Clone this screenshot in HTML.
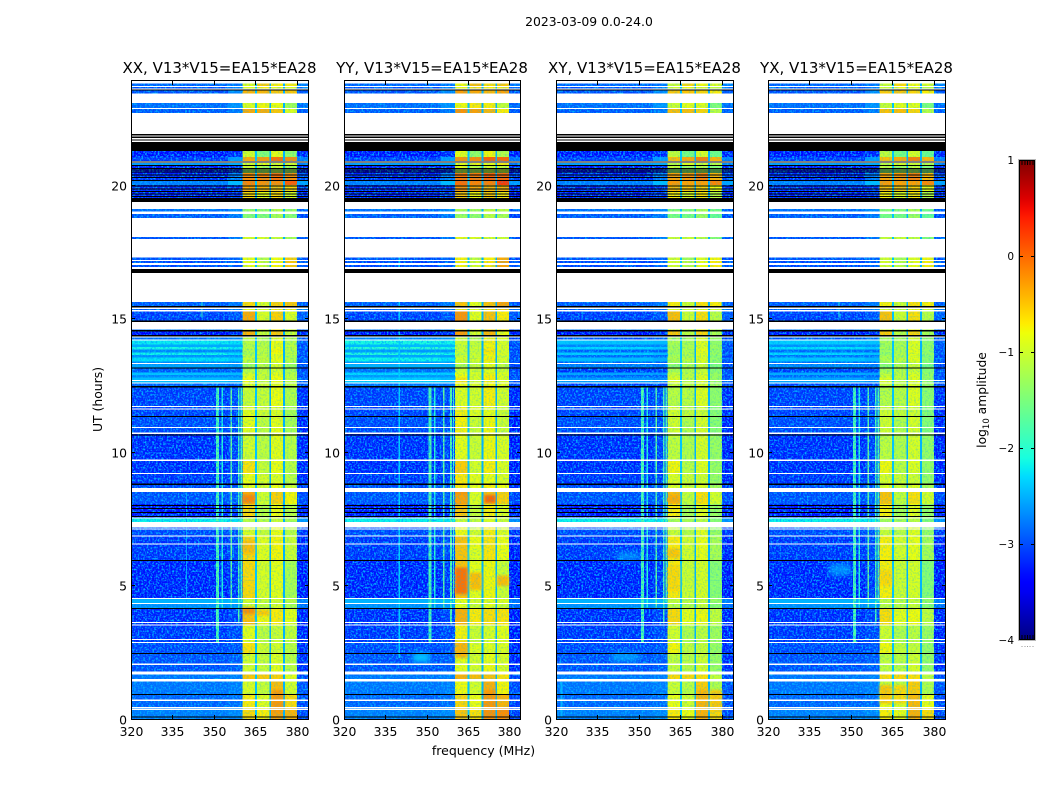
<!DOCTYPE html>
<html lang="en">
<head>
<meta charset="utf-8">
<title>2023-03-09 0.0-24.0</title>
<style>
html,body{margin:0;padding:0;background:#fff;}
svg{display:block;}
text{font-family:"DejaVu Sans","Liberation Sans",sans-serif;fill:#000;}
</style>
</head>
<body>
<svg id="chart" xmlns="http://www.w3.org/2000/svg" width="1050" height="800" viewBox="0 0 1050 800">
  <defs>
    <filter id="grain" x="0" y="0" width="100%" height="100%" color-interpolation-filters="sRGB">
      <feTurbulence type="fractalNoise" baseFrequency="0.55" numOctaves="2" seed="3"/>
      <feColorMatrix type="matrix" values="0 0 0 0 0  0 0 0 0 0.7  0 0 0 0 1  3.2 0 0 0 -1.4"/>
    </filter>
    <linearGradient id="jet-gradient" x1="0" y1="1" x2="0" y2="0"></linearGradient>
  </defs>
  <rect x="0" y="0" width="1050" height="800" fill="#fff"/>
  <text x="589" y="26" font-size="12.4" text-anchor="middle">2023-03-09 0.0-24.0</text>
  <text x="483.5" y="755" font-size="12.5" text-anchor="middle">frequency (MHz)</text>
  <text transform="translate(102,399.5) rotate(-90)" font-size="12.4" text-anchor="middle">UT (hours)</text>
  <text transform="translate(986,400) rotate(-90)" font-size="12.3" text-anchor="middle">log<tspan font-size="8.5" dy="3">10</tspan><tspan dy="-3"> amplitude</tspan></text>
  <g id="panels"></g>
  <g id="colorbar"></g>
</svg>
<script>
// ---- chart data (log10 amplitude, UT hours, MHz) ----
const panelTitles = ['XX, V13*V15=EA15*EA28', 'YY, V13*V15=EA15*EA28', 'XY, V13*V15=EA15*EA28', 'YX, V13*V15=EA15*EA28'];
const freqTicks = [320, 335, 350, 365, 380];
const hourTicks = [0, 5, 10, 15, 20];
const colorbarTicks = [-4, -3, -2, -1, 0, 1];
const freqDomain = [320, 384];
const ampDomain = [-4, 1];
// frequency zones: left, right, band1, gap, band2, gap, band3, gap, band4, edge
const zoneEdges = [320, 355, 360.4, 364.9, 365.6, 370, 370.7, 375, 375.6, 380, 384];
const gapLevels = [-2.4, -2.5, -2.5];
// hTop, hBot, left, right, band1, band2, band3, band4, edge
const sections = [
  [24.00,23.72,-2.8,-2.7,-0.9,-0.6,-0.7,-0.8,-2.7],
  [23.72,23.59,-2.9,-2.7,-0.9,-0.8,-0.8,-1.0,-2.8],
  [23.59,23.45,-2.9,-2.6,-0.4,-0.5,-0.5,-0.6,-2.9],
  [23.09,22.90,-2.75,-2.55,-0.9,-0.85,-0.8,-1.35,-2.8],
  [22.87,22.72,-2.85,-2.7,-0.35,-0.45,-0.5,-1.0,-2.9],
  [21.30,21.06,-3.2,-3.1,-0.95,-1.5,-0.85,-1.45,-3.2],
  [21.06,20.91,-3.0,-2.5,-0.35,-0.35,-0.05,-0.3,-2.7],
  [20.84,20.77,-2.5,-2.4,-0.95,-0.9,-0.9,-1.0,-2.7],
  [20.77,20.64,-3.2,-3.1,-0.95,-1.25,-1.0,-1.3,-3.2],
  [20.64,20.47,-3.25,-3.1,-1.25,-1.3,-1.15,-1.35,-3.2],
  [20.47,20.21,-3.1,-2.7,-0.2,-0.25,-0.05,-0.3,-3.0],
  [20.21,20.02,-2.65,-2.3,-0.15,-0.3,-0.2,-0.05,-2.5],
  [20.02,19.80,-3.1,-3.0,-0.35,-0.5,-0.5,-0.7,-3.1],
  [19.80,19.53,-3.15,-3.05,-0.6,-0.9,-0.6,-1.0,-3.2],
  [19.12,19.03,-2.75,-2.6,-1.3,-1.4,-1.1,-1.4,-2.9],
  [18.94,18.78,-2.85,-2.7,-1.4,-1.5,-1.2,-1.5,-3.0],
  [18.08,17.99,-2.9,-2.7,-0.9,-1.0,-1.0,-1.3,-2.9],
  [17.31,17.17,-2.9,-2.8,-0.85,-1.2,-0.8,-0.65,-3.0],
  [17.17,16.87,-2.95,-2.85,-0.85,-1.1,-0.75,-0.6,-2.9],
  [15.64,15.44,-2.85,-2.7,-0.6,-1.0,-0.55,-0.6,-2.9],
  [15.44,15.29,-2.85,-2.7,-0.8,-1.0,-0.7,-0.8,-2.7],
  [15.29,14.94,-3.0,-2.9,-0.35,-1.0,-0.55,-1.0,-2.9],
  [14.61,14.56,-2.7,-2.6,-0.8,-1.0,-0.7,-1.0,-2.9],
  [14.56,14.31,-3.25,-3.1,-0.4,-1.1,-0.5,-1.1,-3.2],
  [14.31,14.20,-2.6,-2.5,-1.1,-1.25,-0.85,-1.2,-3.0],
  [14.20,14.05,-1.95,-2.0,-1.1,-1.2,-0.8,-1.25,-2.9],
  [14.05,13.95,-2.3,-2.3,-1.15,-1.2,-0.85,-1.2,-3.0],
  [13.95,13.85,-1.85,-1.95,-1.1,-1.15,-0.8,-1.2,-2.9],
  [13.85,13.75,-2.5,-2.5,-1.15,-1.2,-0.75,-1.25,-3.0],
  [13.75,13.65,-1.9,-2.0,-1.2,-1.15,-0.8,-1.2,-2.9],
  [13.65,13.55,-2.45,-2.45,-1.1,-1.2,-0.85,-1.3,-3.0],
  [13.55,13.40,-2.0,-2.1,-1.05,-1.1,-0.8,-1.25,-2.9],
  [13.40,13.30,-2.5,-2.5,-1.15,-1.2,-0.9,-1.3,-3.0],
  [13.30,13.16,-2.35,-2.4,-1.3,-1.2,-0.95,-1.4,-3.0],
  [13.16,13.00,-2.75,-2.7,-1.1,-1.15,-0.95,-1.3,-3.0],
  [13.00,12.90,-2.15,-2.2,-0.95,-1.1,-0.85,-1.2,-2.9],
  [12.90,12.80,-2.5,-2.5,-0.9,-1.1,-0.8,-1.2,-3.0],
  [12.80,12.62,-2.2,-2.3,-0.8,-1.1,-0.8,-1.2,-2.9],
  [12.62,12.44,-2.7,-2.7,-0.9,-1.05,-0.85,-1.15,-3.0],
  [12.44,11.75,-3.0,-2.95,-1.0,-1.1,-0.8,-1.25,-3.15],
  [11.75,11.33,-3.0,-2.95,-0.85,-1.05,-0.9,-1.3,-3.15],
  [11.33,10.72,-2.95,-2.95,-0.85,-1.15,-0.85,-1.3,-3.2],
  [10.72,9.71,-3.1,-3.0,-0.95,-1.15,-0.85,-1.2,-3.2],
  [9.71,9.22,-3.1,-3.0,-0.65,-1.1,-0.8,-1.2,-3.2],
  [9.22,8.81,-3.05,-3.0,-0.8,-1.0,-0.9,-1.2,-3.2],
  [8.81,8.53,-2.95,-2.9,-0.8,-1.0,-0.8,-1.1,-3.1],
  [8.53,8.07,-2.9,-2.85,-0.35,-1.05,-0.55,-0.85,-3.0],
  [8.07,7.57,-3.2,-3.05,-0.6,-1.2,-0.8,-1.2,-3.2],
  [7.54,7.39,-2.0,-2.05,-1.1,-1.2,-1.0,-1.3,-2.6],
  [7.20,6.88,-2.95,-2.9,-0.9,-1.1,-0.8,-1.2,-3.1],
  [6.88,5.96,-3.05,-2.95,-0.6,-0.95,-0.75,-1.1,-3.2],
  [5.96,4.54,-3.15,-3.05,-0.6,-1.0,-0.85,-1.3,-3.25],
  [4.54,4.35,-2.35,-2.3,-0.95,-1.1,-0.95,-1.2,-2.7],
  [4.35,4.16,-2.55,-2.5,-1.0,-1.15,-0.95,-1.3,-2.8],
  [4.16,3.54,-3.1,-3.0,-0.5,-0.85,-0.7,-0.95,-3.2],
  [3.54,2.89,-3.05,-2.95,-0.85,-1.15,-1.0,-1.15,-3.2],
  [2.89,2.48,-2.95,-2.9,-0.65,-1.05,-0.95,-1.2,-3.15],
  [2.48,2.07,-2.9,-2.85,-0.95,-1.1,-0.9,-1.2,-3.15],
  [2.07,1.68,-2.9,-2.85,-0.95,-1.1,-0.85,-1.2,-3.15],
  [1.68,1.42,-2.7,-2.65,-0.5,-0.6,-0.55,-0.95,-3.0],
  [1.42,0.94,-2.7,-2.65,-0.9,-1.1,-0.45,-1.05,-2.95],
  [0.94,0.44,-2.8,-2.75,-0.7,-0.95,-0.35,-0.7,-3.0],
  [0.44,0.00,-2.65,-2.6,-0.6,-0.8,-0.3,-0.5,-3.0]
];
// offsets for each baseline: left, right, band1-4, edge
const panelOffsets = [
  [-0.15, -0.15, 0, 0.08, 0, 0.1, -0.1],
  [-0.15, -0.15, 0.12, 0.16, 0.08, 0.3, -0.15],
  [-0.15, -0.15, -0.1, 0, -0.08, -0.1, -0.1],
  [-0.15, -0.15, -0.12, 0, -0.08, -0.12, -0.1]
];
const quietStripeOffsets = [-0.1, 0, -0.3, -0.25];
// panel (-1 for all), frequency, width MHz, level, hTop, hBot
const rfiLines = [
  [-1, 351.3, 1.0, -1.75, 12.44, 2.9],
  [-1, 353.0, 0.4, -2.0, 12.44, 4.2],
  [-1, 356.3, 0.5, -1.6, 12.44, 4.2],
  [-1, 358.9, 0.6, -1.7, 12.44, 3.6],
  [-1, 359.8, 0.5, -1.8, 12.44, 4.4],
  [1, 340.1, 0.4, -2.35, 17.3, 2.3],
  [0, 345.7, 0.4, -1.9, 15.64, 15.05],
  [3, 345.7, 0.4, -2.0, 15.64, 15.05],
  [0, 340.1, 0.3, -2.6, 8.5, 4.2],
  [2, 322.0, 0.6, -2.5, 1.4, 0.1]
];
// panel, hTop, hBot, f0, f1, level
const patches = [
  [0,6.7,6.2,360.4,364.9,-0.45],[0,4.2,3.95,360.4,364.9,-0.2],[0,4.1,3.9,365.6,370,-0.5],
  [0,8.4,8.1,360.4,364.9,-0.15],[0,3.7,3.55,360.4,364.9,-0.4],[0,1.1,0.3,371,375,-0.25],
  [1,5.7,4.7,360.4,364.9,-0.05],[1,5.5,4.85,365.6,370,-0.45],[1,5.4,5.0,375.6,380,-0.45],
  [1,2.9,2.3,360.4,364.9,-0.4],[1,8.4,8.1,371,375,0.02],[1,8.45,8.07,360.4,364.9,-0.3],
  [1,1.1,0.4,371,375,-0.25],[1,2.5,2.15,345,351,-2.35],[1,6.4,5.9,365.6,370,-0.9],
  [2,5.8,4.8,360.4,364.9,-0.6],[2,6.4,6.05,360.4,364.9,-0.5],[2,8.4,8.1,360.4,364.9,-0.35],
  [2,6.25,5.95,342,350,-2.7],[2,2.5,2.2,340,350,-2.6],[2,1.1,0.3,371,375,-0.4],[2,1.1,0.3,375.6,380,-0.5],
  [3,5.6,5.0,360.4,364.9,-0.6],[3,5.85,5.4,342,350,-2.7],[3,1.3,0.6,360.4,364.9,-0.5],[3,1.3,0.6,365.6,370,-0.6]
];
const whiteRows = [
  [23.92,23.82],[23.72,23.69],[23.64,23.59],[23.45,23.09],[22.90,22.87],[22.72,21.93],[21.88,21.83],
  [21.78,21.73],[21.68,21.63],[20.91,20.84],[19.38,19.12],[19.03,18.94],[18.78,18.08],[17.99,17.31],
  [17.21,17.17],[17.09,17.03],[16.94,16.87],[16.73,15.64],[15.44,15.37],[15.34,15.29],[14.89,14.61],
  [14.39,14.31],[14.23,14.19],[13.36,13.32],[12.72,12.68],[12.62,12.58],[11.75,11.70],[11.65,11.61],
  [10.96,10.92],[10.74,10.70],[9.73,9.69],[9.24,9.20],[8.67,8.53],[7.57,7.54],[7.39,7.20],[7.15,7.11],
  [6.90,6.86],[6.59,6.55],[4.56,4.52],[4.37,4.33],[3.66,3.62],[3.56,3.52],[3.02,2.98],[2.91,2.87],
  [2.09,2.05],[1.79,1.68],[1.52,1.42],[0.74,0.70],[0.46,0.42],[0.40,0.36]
];
const blackRows = [
  [23.59,23.55],[21.93,21.88],[21.83,21.78],[21.73,21.68],[21.63,21.30],[20.90,20.86],[20.77,20.73],
  [20.66,20.62],[20.60,20.56],[20.53,20.49],[20.41,20.37],[20.32,20.28],[20.21,20.17],[20.00,19.96],
  [19.89,19.85],[19.80,19.76],[19.70,19.66],[19.61,19.57],[19.53,19.38],[16.87,16.73],[15.49,15.44],
  [14.94,14.89],[14.58,14.54],[14.40,14.35],[13.18,13.14],[12.49,12.44],[11.37,11.33],[10.68,10.65],
  [8.83,8.79],[8.04,8.01],[7.93,7.90],[7.78,7.75],[7.63,7.60],[5.98,5.94],[4.18,4.14],[2.50,2.46],
  [0.96,0.92],[0.12,0.08]
];

// ---- scales ----
const NS = 'http://www.w3.org/2000/svg';
const panelBoxes = [[131, 177], [344, 176], [556, 177], [768, 177]];
const plotBottom = 719.5, pxPerHour = 26.7, plotTop = 81;
function xScale(box, f) { return box[0] + (f - freqDomain[0]) * box[1] / (freqDomain[1] - freqDomain[0]); }
function yScale(h) { return Math.max(plotTop, plotBottom - h * pxPerHour); }
function clamp01(v) { return Math.min(1, Math.max(0, v)); }
function interp(t, pts) {
  for (let i = 1; i < pts.length; i++) {
    if (t <= pts[i][0]) {
      const a = pts[i - 1], b = pts[i];
      return a[1] + (b[1] - a[1]) * (t - a[0]) / (b[0] - a[0]);
    }
  }
  return pts[pts.length - 1][1];
}
function jet(level) {
  const t = clamp01((level - ampDomain[0]) / (ampDomain[1] - ampDomain[0]));
  const r = interp(t, [[0,0],[0.35,0],[0.66,1],[0.89,1],[1,0.5]]);
  const g = interp(t, [[0,0],[0.125,0],[0.375,1],[0.64,1],[0.91,0],[1,0]]);
  const b = interp(t, [[0,0.5],[0.11,1],[0.34,1],[0.65,0],[1,0]]);
  return 'rgb(' + Math.round(r * 255) + ',' + Math.round(g * 255) + ',' + Math.round(b * 255) + ')';
}
function makeRect(parent, x, y, w, h, fill) {
  const el = document.createElementNS(NS, 'rect');
  el.setAttribute('x', x.toFixed(2));
  el.setAttribute('y', y.toFixed(2));
  el.setAttribute('width', w.toFixed(2));
  el.setAttribute('height', h.toFixed(2));
  el.setAttribute('fill', fill);
  el.setAttribute('shape-rendering', 'crispEdges');
  parent.appendChild(el);
  return el;
}
function makeText(parent, x, y, size, anchor, str) {
  const el = document.createElementNS(NS, 'text');
  el.setAttribute('x', x);
  el.setAttribute('y', y);
  el.setAttribute('font-size', size);
  el.setAttribute('text-anchor', anchor);
  el.textContent = str;
  parent.appendChild(el);
  return el;
}
function minusLabel(v) { return v < 0 ? '\u2212' + Math.abs(v) : String(v); }

// ---- panels ----
const panelsGroup = document.getElementById('panels');
panelTitles.forEach(function (title, p) {
  const box = panelBoxes[p];
  const g = document.createElementNS(NS, 'g');
  
  
  panelsGroup.appendChild(g);

  // heatmap cells
  sections.forEach(function (row) {
    const isStripe = row[0] <= 14.31 && row[1] >= 12.44;
    const zoneLevels = [
      row[2] + panelOffsets[p][0] + (isStripe ? quietStripeOffsets[p] : 0),
      row[3] + panelOffsets[p][1] + (isStripe ? quietStripeOffsets[p] : 0),
      row[4] + panelOffsets[p][2], gapLevels[0],
      row[5] + panelOffsets[p][3], gapLevels[1],
      row[6] + panelOffsets[p][4], gapLevels[2],
      row[7] + panelOffsets[p][5],
      row[8] + panelOffsets[p][6]
    ];
    zoneLevels.forEach(function (level, z) {
      const x0 = xScale(box, zoneEdges[z]), x1 = xScale(box, zoneEdges[z + 1]);
      const y0 = yScale(row[0]), y1 = yScale(row[1]);
      const cell = makeRect(g, x0, y0, x1 - x0, y1 - y0, jet(level));
      
      
    });
  });

  // RFI vertical lines
  rfiLines.forEach(function (line) {
    if (line[0] !== -1 && line[0] !== p) return;
    const x0 = xScale(box, line[1] - line[2] / 2), x1 = xScale(box, line[1] + line[2] / 2);
    const y0 = yScale(line[4]), y1 = yScale(line[5]);
    const mark = makeRect(g, x0, y0, x1 - x0, y1 - y0, jet(line[3]));
    
    
  });

  // localized patches, softened so they read as blobs
  patches.forEach(function (pt) {
    if (pt[0] !== p) return;
    const x0 = xScale(box, pt[3]), x1 = xScale(box, pt[4]);
    const y0 = yScale(pt[1]), y1 = yScale(pt[2]);
    const mark = makeRect(g, x0, y0, x1 - x0, y1 - y0, jet(pt[5]));
    mark.setAttribute('style', 'filter:blur(' + (pt[4] <= 360 ? 3 : 1.2) + 'px)');
    
    
  });

  // grain texture
  const bandStart = xScale(box, zoneEdges[2]), bandEnd = xScale(box, zoneEdges[9]);
  const grainLeft = makeRect(g, box[0], plotTop, bandStart - box[0], plotBottom - plotTop, '#000');
  grainLeft.setAttribute('filter', 'url(#grain)');
  
  
  const grainBand = makeRect(g, bandStart, plotTop, bandEnd - bandStart, plotBottom - plotTop, '#000');
  grainBand.setAttribute('filter', 'url(#grain)');
  grainBand.setAttribute('opacity', '0.3');
  
  
  const grainRight = makeRect(g, bandEnd, plotTop, box[0] + box[1] - bandEnd, plotBottom - plotTop, '#000');
  grainRight.setAttribute('filter', 'url(#grain)');
  
  

  // flagged rows
  whiteRows.forEach(function (r) {
    const y0 = yScale(r[0]), y1 = yScale(r[1]);
    const mark = makeRect(g, box[0], y0, box[1], Math.max(1, y1 - y0), '#fff');
    
    
  });
  blackRows.forEach(function (r) {
    const y0 = yScale(r[0]), y1 = yScale(r[1]);
    const mark = makeRect(g, box[0], y0, box[1], Math.max(1, y1 - y0), '#000');
    
    
  });

  // spine
  const spine = document.createElementNS(NS, 'rect');
  spine.setAttribute('x', box[0] + 0.5);
  spine.setAttribute('y', plotTop - 0.5);
  spine.setAttribute('width', box[1]);
  spine.setAttribute('height', plotBottom - plotTop + 0.5);
  spine.setAttribute('fill', 'none');
  spine.setAttribute('stroke', '#000');
  spine.setAttribute('stroke-width', '1');
  
  
  g.appendChild(spine);

  // x ticks
  freqTicks.forEach(function (f) {
    const x = Math.round(xScale(box, f));
    const bottomTick = makeRect(g, x, plotBottom - 4.5, 1, 4, '#000');
    
    
    const topTick = makeRect(g, x, plotTop, 1, 4, '#000');
    
    
    const label = makeText(g, x + 0.5, 736, 12.4, 'middle', String(f));
    
    
  });

  // y ticks
  hourTicks.forEach(function (h) {
    const y = Math.round(yScale(h)) - 1;
    const leftTick = makeRect(g, box[0], y, 4, 1, '#000');
    
    
    const rightTick = makeRect(g, box[0] + box[1] - 3, y, 4, 1, '#000');
    
    
    const label = makeText(g, box[0] - 4, y + 5.5, 12.4, 'end', String(h));
    
    
  });

  // title
  const titleEl = makeText(g, box[0] + box[1] / 2, 73, 15, 'middle', title);
  
  
});

// ---- colorbar ----
const gradient = document.getElementById('jet-gradient');
for (let i = 0; i <= 50; i++) {
  const stop = document.createElementNS(NS, 'stop');
  stop.setAttribute('offset', (i / 50).toFixed(3));
  stop.setAttribute('stop-color', jet(ampDomain[0] + (ampDomain[1] - ampDomain[0]) * i / 50));
  gradient.appendChild(stop);
}
const cb = document.getElementById('colorbar');
const cbX = 1019, cbW = 16, cbTop = 160, cbBottom = 640;
function cbScale(v) { return cbBottom - (v - ampDomain[0]) * (cbBottom - cbTop) / (ampDomain[1] - ampDomain[0]); }

const cbBar = makeRect(cb, cbX, cbTop, cbW, cbBottom - cbTop, 'url(#jet-gradient)');


const cbOuter = document.createElementNS(NS, 'rect');
cbOuter.setAttribute('x', cbX - 0.5);
cbOuter.setAttribute('y', cbTop - 0.5);
cbOuter.setAttribute('width', cbW + 1);
cbOuter.setAttribute('height', cbBottom - cbTop + 1);
cbOuter.setAttribute('fill', 'none');
cbOuter.setAttribute('stroke', '#b8b8b8');


cb.appendChild(cbOuter);
const cbInner = document.createElementNS(NS, 'rect');
cbInner.setAttribute('x', cbX + 0.5);
cbInner.setAttribute('y', cbTop + 0.5);
cbInner.setAttribute('width', cbW - 1);
cbInner.setAttribute('height', cbBottom - cbTop - 1);
cbInner.setAttribute('fill', 'none');
cbInner.setAttribute('stroke', '#000');


cb.appendChild(cbInner);

colorbarTicks.forEach(function (v) {
  const y = Math.round(cbScale(v));
  const tickY = Math.min(cbBottom - 1, Math.max(cbTop, y));
  const tickLeft = makeRect(cb, cbX, tickY, 4, 1, '#000');
  
  
  const tickRight = makeRect(cb, cbX + cbW - 4, tickY, 4, 1, '#000');
  
  
  const label = makeText(cb, 1014, y + 4, 10.5, 'end', minusLabel(v));
  
  
});
for (let i = 1; i < 6; i++) {
  const x = cbX + i * cbW / 6;
  const topMinor = makeRect(cb, x, cbTop, 1, 5, '#000');
  
  
  const bottomMinor = makeRect(cb, x, cbBottom - 5, 1, 5, '#000');
  
  
  const dot = makeRect(cb, x, cbBottom + 6, 1, 1, '#999');
  
  
}
</script>
</body>
</html>
